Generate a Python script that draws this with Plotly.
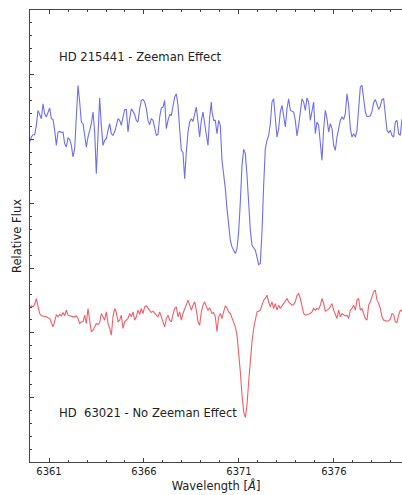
import numpy as np
import plotly.graph_objects as go

# Wavelength grid (Angstrom), two contiguous segments with the same step
wl_step = 5 / 57
wavelength = np.concatenate([6359.895 + np.arange(111) * wl_step,
                             6369.579 + np.arange(115) * wl_step])

# HD 215441 (Zeeman effect), relative flux
flux_zeeman = [
    0.976, 0.961, 0.976, 0.983, 0.983, 1.011, 1.056, 1.041, 1.031, 1.076,
    1.046, 1.036, 1.051, 1.063, 1.031, 1.029, 0.996, 0.951, 0.991, 0.993,
    0.989, 0.991, 0.956, 0.946, 0.973, 0.969, 0.951, 0.916, 0.941, 1.031,
    1.131, 1.081, 1.021, 1.016, 0.976, 0.946, 0.976, 0.998, 1.016, 1.051,
    0.991, 0.866, 0.961, 1.093, 1.011, 0.951, 0.966, 0.971, 0.996, 1.016,
    0.986, 0.981, 0.991, 1.011, 1.031, 1.026, 1.011, 1.036, 1.058, 1.059,
    0.991, 1.031, 1.061, 1.053, 1.043, 1.026, 1.021, 1.061, 1.086, 1.089,
    1.081, 1.061, 1.026, 1.013, 1.031, 1.026, 1.001, 0.981, 0.983, 1.036,
    1.063, 1.066, 1.086, 1.001, 1.026, 1.043, 1.041, 1.066, 1.096, 1.106,
    1.071, 1.001, 0.936, 0.929, 0.851, 0.931, 0.991, 1.021, 1.031, 1.023,
    1.041, 1.066, 1.021, 0.976, 1.026, 1.051, 1.016, 0.986, 0.951, 1.036,
    1.081,
    1.051, 1.026, 1.026, 0.986, 1.026, 1.011, 0.906, 0.871, 0.821, 0.761,
    0.711, 0.666, 0.646, 0.633, 0.626, 0.641, 0.691, 0.781, 0.891, 0.939,
    0.926, 0.861, 0.761, 0.696, 0.651, 0.644, 0.636, 0.616, 0.593, 0.596,
    0.691, 0.831, 0.941, 0.966, 0.981, 1.016, 1.081, 1.091, 1.026, 0.976,
    1.001, 1.051, 1.071, 1.031, 1.006, 1.061, 1.091, 1.056, 1.053, 1.051,
    1.026, 0.979, 1.011, 1.061, 1.091, 1.081, 1.056, 1.093, 1.081, 1.026,
    1.056, 1.081, 0.986, 1.021, 1.011, 0.951, 0.906, 1.001, 1.056, 1.031,
    0.991, 1.016, 1.001, 0.951, 0.936, 0.976, 1.006, 1.026, 1.036, 1.029,
    1.046, 1.106, 1.071, 1.001, 0.976, 0.986, 0.976, 0.996, 1.061, 1.126,
    1.131, 1.096, 1.051, 1.037, 1.038, 1.039, 1.053, 1.079, 1.089, 1.071,
    1.059, 1.069, 1.089, 1.091, 1.036, 0.996, 0.989, 0.996, 0.981, 0.976,
    1.021, 1.026, 0.986, 0.981, 1.031,
]

# HD 63021 (no Zeeman effect), relative flux (offset)
flux_no_zeeman = [
    0.456, 0.463, 0.469, 0.466, 0.473, 0.491, 0.471, 0.446, 0.439, 0.438,
    0.438, 0.436, 0.433, 0.431, 0.419, 0.406, 0.421, 0.443, 0.436, 0.443,
    0.439, 0.449, 0.439, 0.456, 0.441, 0.439, 0.439, 0.436, 0.436, 0.439,
    0.431, 0.416, 0.421, 0.421, 0.441, 0.416, 0.461, 0.423, 0.391, 0.396,
    0.406, 0.416, 0.413, 0.419, 0.446, 0.436, 0.426, 0.451, 0.416, 0.401,
    0.381, 0.436, 0.461, 0.449, 0.421, 0.426, 0.441, 0.401, 0.421, 0.426,
    0.431, 0.446, 0.436, 0.451, 0.426, 0.436, 0.456, 0.443, 0.461, 0.446,
    0.466, 0.469, 0.461, 0.456, 0.449, 0.453, 0.446, 0.441, 0.436, 0.451,
    0.436, 0.421, 0.406, 0.431, 0.441, 0.426, 0.421, 0.443, 0.461, 0.466,
    0.436, 0.451, 0.426, 0.446, 0.461, 0.471, 0.486, 0.471, 0.456, 0.471,
    0.481, 0.456, 0.421, 0.411, 0.451, 0.471, 0.481, 0.466, 0.456, 0.463,
    0.446,
    0.446, 0.449, 0.436, 0.391, 0.436, 0.446, 0.431, 0.451, 0.469, 0.463,
    0.451, 0.446, 0.431, 0.416, 0.406, 0.381, 0.331, 0.271, 0.201, 0.151,
    0.133, 0.171, 0.241, 0.311, 0.361, 0.401, 0.431, 0.451, 0.453, 0.456,
    0.471, 0.486, 0.491, 0.501, 0.481, 0.466, 0.481, 0.461, 0.476, 0.456,
    0.471, 0.461, 0.469, 0.476, 0.486, 0.491, 0.481, 0.476, 0.471, 0.473,
    0.481, 0.501, 0.506, 0.491, 0.471, 0.446, 0.441, 0.443, 0.443, 0.446,
    0.451, 0.461, 0.456, 0.461, 0.459, 0.471, 0.491, 0.476, 0.453, 0.456,
    0.459, 0.466, 0.476, 0.456, 0.441, 0.431, 0.456, 0.436, 0.446, 0.441,
    0.439, 0.441, 0.431, 0.456, 0.461, 0.471, 0.456, 0.486, 0.491, 0.456,
    0.461, 0.446, 0.431, 0.426, 0.471, 0.481, 0.496, 0.511, 0.516, 0.486,
    0.476, 0.461, 0.436, 0.426, 0.425, 0.423, 0.424, 0.429, 0.446, 0.443,
    0.421, 0.419, 0.441, 0.456, 0.453,
]

x_tick_vals = [6361, 6366, 6371, 6376]
x_tick_text = ["6361", "6366", "6371", "6376"]
label_zeeman = "HD 215441 - Zeeman Effect"
label_no_zeeman = "HD  63021 - No Zeeman Effect"

y_major = 0.19395
y_top = 1.3575

fig = go.Figure()
fig.add_trace(go.Scatter(x=wavelength, y=flux_zeeman, mode="lines",
                         line=dict(color="rgb(110,110,240)", width=1.1),
                         showlegend=False))
fig.add_trace(go.Scatter(x=wavelength, y=flux_no_zeeman, mode="lines",
                         line=dict(color="rgb(240,95,105)", width=1.1),
                         showlegend=False))

fig.add_annotation(x=6361.42, y=1.215, text=label_zeeman, showarrow=False,
                   xanchor="left", yanchor="middle",
                   font=dict(family="DejaVu Sans", size=11.6, color="#222"))
fig.add_annotation(x=6361.42, y=0.147, text=label_no_zeeman, showarrow=False,
                   xanchor="left", yanchor="middle",
                   font=dict(family="DejaVu Sans", size=11.6, color="#222"))

fig.update_layout(
    width=402, height=495,
    margin=dict(l=30, r=0, t=10, b=33),
    paper_bgcolor="white", plot_bgcolor="white",
    font=dict(family="DejaVu Sans", color="#222"),
)
fig.update_xaxes(
    range=[6360, 6379.58], showgrid=False, zeroline=False,
    showline=True, linecolor="#444", linewidth=1, mirror="ticks",
    ticks="inside", ticklen=4, tickcolor="#444",
    tickvals=x_tick_vals, ticktext=x_tick_text,
    tickfont=dict(size=10, color="#222"),
    minor=dict(dtick=1, tick0=6360, ticks="inside", ticklen=2, tickcolor="#444"),
    title=dict(text="Wavelength [<i>Å</i>]", font=dict(size=11.5, color="#222"), standoff=5),
)
fig.update_yaxes(
    range=[0, y_top], showgrid=False, zeroline=False,
    showline=True, linecolor="#444", linewidth=1, mirror=False,
    ticks="inside", ticklen=4, tickcolor="#444",
    tick0=0, dtick=y_major, showticklabels=False,
    minor=dict(dtick=y_major / 5, tick0=0, ticks="inside", ticklen=2, tickcolor="#444"),
    title=dict(text="Relative Flux", font=dict(size=11.5, color="#222"), standoff=4),
)

fig.write_html("out.html", config={"displayModeBar": False},
               post_script="document.body.style.margin='0';document.body.style.overflow='hidden';")
